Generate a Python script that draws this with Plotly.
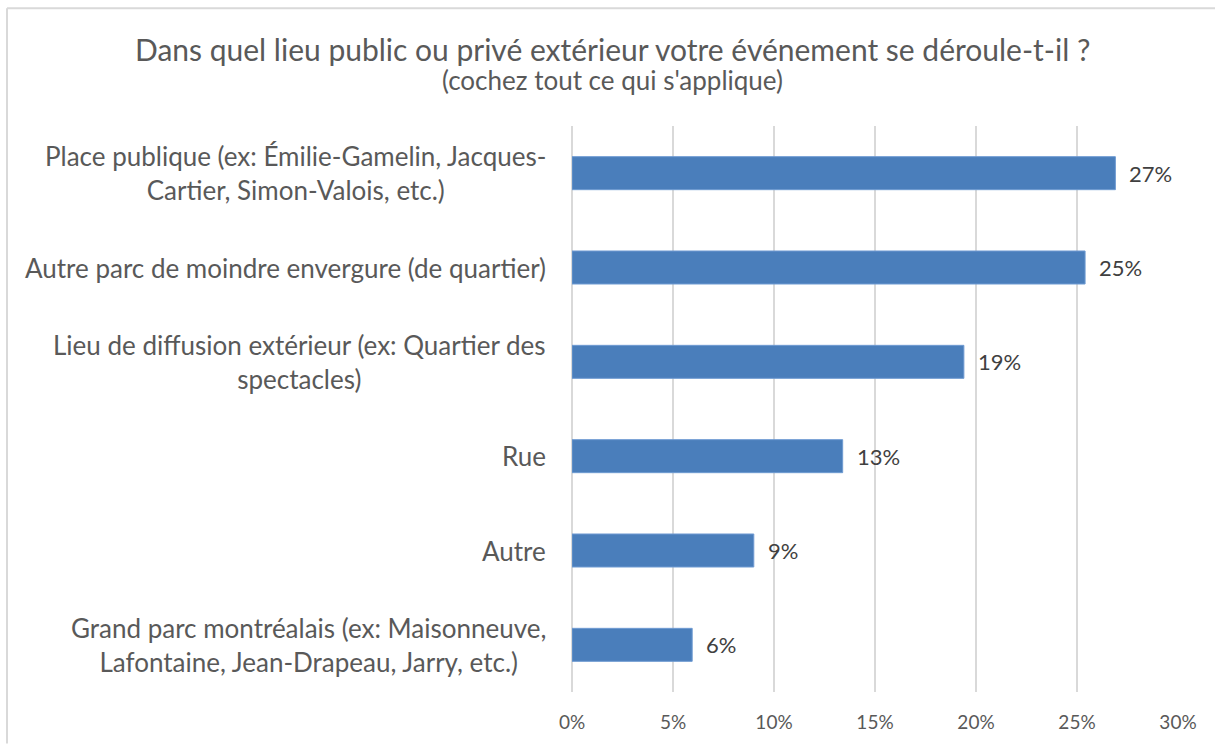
import plotly.graph_objects as go

categories = [
    "Place publique (ex: Émilie-Gamelin, Jacques-<br>Cartier, Simon-Valois, etc.)",
    "Autre parc de moindre envergure (de quartier)",
    "Lieu de diffusion extérieur (ex: Quartier des<br>spectacles)",
    "Rue",
    "Autre",
    "Grand parc montréalais (ex: Maisonneuve,<br>Lafontaine, Jean-Drapeau, Jarry, etc.)",
]
values = [0.269, 0.254, 0.194, 0.134, 0.090, 0.0595]
x_ticks = [0, 0.05, 0.10, 0.15, 0.20, 0.25, 0.30]
title_text = "Dans quel lieu public ou privé extérieur votre événement se déroule-t-il ?"
subtitle_text = "(cochez tout ce qui s'applique)"

FONT = "Lato, Carlito, Calibri, sans-serif"
ids = list(range(len(categories)))

W, H = 1215, 745
L, T, PW, PH = 572, 126, 606, 572

fig = go.Figure()
fig.add_trace(go.Bar(
    x=values,
    y=ids,
    orientation="h",
    marker=dict(color="#4A7EBB", line=dict(color="#6F9BD2", width=1)),
    width=0.35,
    hoverinfo="skip",
))

annotations = []
for i, (c, v) in enumerate(zip(categories, values)):
    annotations.append(dict(
        x=0, xref="paper", y=i, yref="y",
        text=c, showarrow=False, xanchor="right", yanchor="middle",
        align="center", xshift=-24,
        font=dict(family=FONT, size=26, color="#595959"),
    ))
    annotations.append(dict(
        x=v, xref="x", y=i, yref="y",
        text=f"{round(v*100):.0f}%", showarrow=False, xanchor="left", yanchor="middle",
        xshift=12,
        font=dict(family=FONT, size=22, color="#404040"),
    ))

annotations.append(dict(
    x=(612 - L) / PW, xref="paper", y=(T + PH - 48) / PH, yref="paper",
    text=title_text, showarrow=False, xanchor="center", yanchor="middle",
    font=dict(family=FONT, size=30, color="#595959"),
))
annotations.append(dict(
    x=(612 - L) / PW, xref="paper", y=(T + PH - 80) / PH, yref="paper",
    text=subtitle_text, showarrow=False, xanchor="center", yanchor="middle",
    font=dict(family=FONT, size=26, color="#595959"),
))

bx = (7 - L) / PW
bx_end = (W + 5 - L) / PW
by = (T + PH - 7) / PH

fig.update_layout(
    width=W, height=H,
    margin=dict(l=L, r=W - L - PW, t=T, b=H - T - PH, pad=0),
    paper_bgcolor="white", plot_bgcolor="white",
    showlegend=False,
    annotations=annotations,
    shapes=[
        dict(type="line", xref="paper", yref="paper", x0=bx, x1=bx_end, y0=by, y1=by,
             line=dict(color="#D9D9D9", width=2)),
        dict(type="line", xref="paper", yref="paper", x0=bx, x1=bx, y0=by, y1=-(H - T - PH + 5) / PH,
             line=dict(color="#D9D9D9", width=2)),
    ],
)
fig.update_xaxes(
    range=[0, 0.30], tickvals=x_ticks, tickformat=".0%",
    showgrid=True, gridcolor="#D9D9D9", gridwidth=2,
    zeroline=True, zerolinecolor="#D9D9D9", zerolinewidth=2,
    showline=False, ticks="", ticklabelstandoff=17,
    tickfont=dict(family=FONT, size=19, color="#595959"),
    fixedrange=True,
)
fig.update_yaxes(
    range=[len(categories) - 0.5, -0.5],
    showticklabels=False, showgrid=False, zeroline=False, showline=False,
    fixedrange=True,
)

fig.write_html(
    "out.html",
    config={"displayModeBar": False},
    post_script="document.body.style.margin='0';document.body.style.overflow='hidden';",
)
